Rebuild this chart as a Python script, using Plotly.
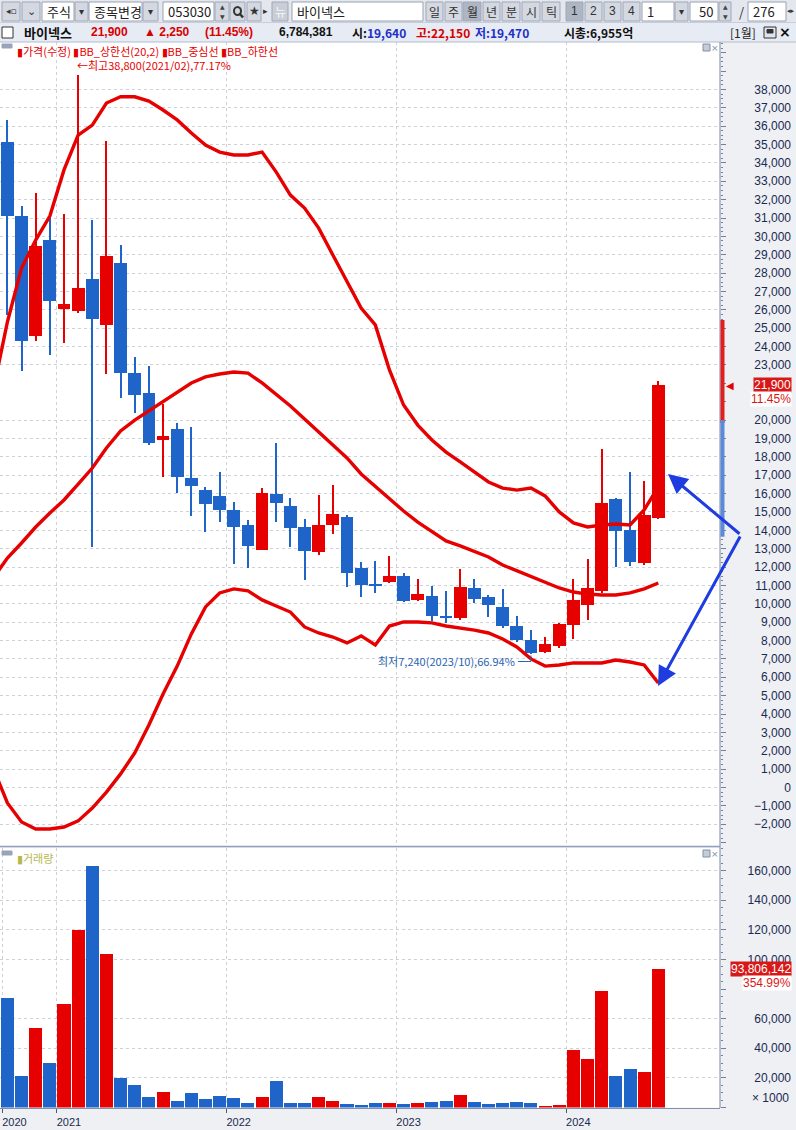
import plotly.graph_objects as go

W, H = 796, 1130

# ---------------- data (monthly, adjusted) ----------------
months = ["2020-09", "2020-10", "2020-11", "2020-12",
          "2021-01", "2021-02", "2021-03", "2021-04", "2021-05", "2021-06",
          "2021-07", "2021-08", "2021-09", "2021-10", "2021-11", "2021-12",
          "2022-01", "2022-02", "2022-03", "2022-04", "2022-05", "2022-06",
          "2022-07", "2022-08", "2022-09", "2022-10", "2022-11", "2022-12",
          "2023-01", "2023-02", "2023-03", "2023-04", "2023-05", "2023-06",
          "2023-07", "2023-08", "2023-09", "2023-10", "2023-11", "2023-12",
          "2024-01", "2024-02", "2024-03", "2024-04", "2024-05", "2024-06",
          "2024-07"]

open_ = [35150, 31100, 24600, 29800, 26050, 25950, 27700, 25200, 28550, 22550,
         21450, 18900, 19500, 16850, 16200, 15850, 15100, 14300, 12950, 16000,
         15300, 14200, 12800, 14300, 14750, 11950, 11100, 11200, 11500, 10200,
         10450, 9350, 9200, 10850, 10350, 9800, 8800, 8050, 7350, 7700,
         8850, 9950, 10700, 15700, 14000, 12200, 14650]
high = [36350, 31650, 32350, 31000, 31200, 38800, 30900, 35200, 29550, 23450,
        22950, 20900, 19850, 19650, 16350, 17200, 15550, 14550, 16300, 18750,
        15750, 14600, 15900, 16450, 14850, 12250, 12350, 12600, 11700, 11350,
        10950, 10700, 11900, 11350, 10500, 10800, 9350, 8600, 8200, 8950,
        11350, 12450, 18450, 15750, 17200, 16700, 22150]
low = [25700, 22650, 24300, 23550, 24200, 25850, 13100, 22500, 21200, 20400,
       18650, 16900, 16050, 14800, 13900, 14450, 12150, 11950, 12950, 14450,
       13100, 11300, 12650, 13800, 10900, 10350, 10600, 11150, 10100, 10150,
       9050, 8950, 9100, 10050, 9300, 8700, 7900, 7240, 7300, 7600,
       8100, 9100, 10600, 12000, 12050, 12100, 14600]
close = [31100, 24300, 29500, 26500, 26300, 27200, 25500, 28950, 22550, 21350,
         18750, 19150, 16900, 16400, 15450, 15100, 14200, 13150, 16050, 15500,
         14150, 12850, 14300, 14900, 11650, 11050, 10950, 11500, 10150, 10550,
         9350, 9200, 10900, 10250, 9950, 8800, 8050, 7300, 7800, 8900,
         10200, 10850, 15500, 13950, 12250, 14850, 21900]
# volume in thousand shares
volume_k = [74000, 21000, 54000, 30000, 70000, 120000, 163000, 104000, 20000, 15000,
            6900, 10300, 4200, 9600, 5500, 7600, 6400, 2800, 6900, 18000,
            2800, 2800, 6900, 4200, 2100, 1400, 2800, 2800, 2100, 2800,
            3500, 4200, 8300, 3500, 2100, 2800, 3500, 2800, 1000, 1400,
            39000, 33000, 79000, 21000, 26000, 24000, 93806]

# Bollinger bands (20,2); first value = 2020-08
band_months = ["2020-08"] + months
bb_upper = [21640, 25340, 28280, 29800, 31110, 33620, 35520, 36060, 37260, 37600,
            37600, 37370, 36880, 36340, 35630, 34970, 34590, 34430, 34430, 34590,
            33500, 32250, 31540, 30450, 28990, 27520, 26100, 25180, 22730, 20820,
            19730, 18920, 18260, 17720, 17170, 16630, 16300, 16190, 16300, 15870,
            15000, 14400, 14180, 14290, 14340, 14290, 15110, 16360]
bb_mid = [11400, 12490, 13310, 14180, 14940, 15650, 16520, 17390, 18480, 19410,
          20000, 20500, 21040, 21530, 22020, 22350, 22510, 22620, 22560, 22020,
          21420, 20770, 20060, 19350, 18700, 17940, 17070, 16410, 15700, 15050,
          14450, 13910, 13420, 13150, 12870, 12550, 12110, 11790, 11510, 11190,
          10860, 10640, 10530, 10480, 10480, 10590, 10810, 11130]
bb_lower = [1060, -840, -1880, -2260, -2260, -2150, -1820, -1120, -250, 740,
            1880, 3400, 5090, 6610, 8360, 9830, 10590, 10810, 10700, 10210,
            9880, 9550, 8740, 8410, 8190, 7870, 8250, 7760, 8790, 9010,
            9010, 8960, 8790, 8680, 8570, 8410, 8080, 7650, 7000, 6610,
            6670, 6780, 6780, 6780, 6940, 6830, 6670, 5690]

# labels hidden under the last-price boxes in the original are left out
price_ticks = [v for v in range(-2000, 38001, 1000) if v not in (21000, 22000)]
volume_ticks = [v for v in range(20000, 160001, 20000) if v != 80000]

# ---------------- helpers ----------------
def px(x):
    return x / W

def py(y):
    return 1 - y / H

RED = "#e60000"
BLUE = "#1f64c8"
KFONT = "Noto Sans CJK KR"
NFONT = "Liberation Sans"

xi = list(range(len(months)))
band_x = list(range(-1, len(months)))
colors = [RED if c >= o else BLUE for o, c in zip(open_, close)]

fig = go.Figure()

# wicks
fig.add_trace(go.Bar(x=xi, y=[h - l for h, l in zip(high, low)], base=low, width=0.075,
                     marker=dict(color=colors, line_width=0), xaxis="x", yaxis="y",
                     hoverinfo="skip"))
# bodies
fig.add_trace(go.Bar(x=xi, y=[abs(c - o) for o, c in zip(open_, close)],
                     base=[min(o, c) for o, c in zip(open_, close)], width=0.9,
                     marker=dict(color=colors, line_width=0), xaxis="x", yaxis="y",
                     hoverinfo="skip"))
# bands
for arr in (bb_upper, bb_mid, bb_lower):
    fig.add_trace(go.Scatter(x=band_x, y=arr, mode="lines",
                             line=dict(color=RED, width=3.4), xaxis="x", yaxis="y",
                             hoverinfo="skip"))
# ruler-axis helpers (empty)
fig.add_trace(go.Scatter(x=[], y=[], xaxis="x", yaxis="y3"))
fig.add_trace(go.Scatter(x=[], y=[], xaxis="x2", yaxis="y4"))
# volume
fig.add_trace(go.Bar(x=xi, y=volume_k, width=0.92, marker=dict(color=colors, line_width=0),
                     xaxis="x2", yaxis="y2", hoverinfo="skip"))

# year ticks (first label sits at the left edge of the first bar)
year_pos = [-0.35] + [i - 0.5 for i, m in enumerate(months) if m.endswith("-01")]
year_txt = [months[0][:4]] + [m[:4] for m in months if m.endswith("-01")]

XR = [-0.523, 50.36]
price_dom = [py(846), py(42)]
vol_dom = [py(1107.5), py(848)]
PR = [-3185, 40582]
VR = [0, 175300]

grid = dict(showgrid=True, gridcolor="#cdd1d8", griddash="dot", gridwidth=1)

fig.update_layout(
    width=W, height=H, margin=dict(l=0, r=0, t=0, b=0),
    template="none",
    paper_bgcolor="#eef0f4", plot_bgcolor="white",
    showlegend=False, barmode="overlay", bargap=0,
    font=dict(family=NFONT, size=12, color="#1a2a50"),
    xaxis=dict(domain=[0, px(720)], range=XR, anchor="y", showticklabels=False,
               tickvals=year_pos[1:], ticks="", zeroline=False, showline=False, **grid),
    xaxis2=dict(domain=[0, px(720)], range=XR, anchor="y2", matches="x",
                tickvals=year_pos, ticktext=year_txt, ticks="outside", ticklen=4,
                tickcolor="#505868", ticklabelshift=12, ticklabelstandoff=0,
                zeroline=False, showline=True, linecolor="#8090a8", linewidth=1,
                tickfont=dict(family=NFONT, size=11, color="#1a2a50"), **grid),
    yaxis=dict(domain=price_dom, range=PR, anchor="free", position=px(791), side="left",
               tickvals=price_ticks, tickformat=",d", ticks="", zeroline=False,
               showline=False, tickfont=dict(family=NFONT, size=12, color="#1a2a50"),
               **grid),
    yaxis3=dict(domain=price_dom, range=PR, overlaying="y", anchor="x", side="right",
                showticklabels=False, showgrid=False, zeroline=False, ticks="outside",
                ticklen=5, tickcolor="#7080a0", dtick=1000, tick0=0,
                minor=dict(ticks="outside", ticklen=2, dtick=250, tickcolor="#7080a0")),
    yaxis2=dict(domain=vol_dom, range=VR, anchor="free", position=px(791), side="left",
                tickvals=volume_ticks, tickformat=",d", ticks="", zeroline=False,
                showline=False, tickfont=dict(family=NFONT, size=12, color="#1a2a50"),
                **grid),
    yaxis4=dict(domain=vol_dom, range=VR, overlaying="y2", anchor="x2", side="right",
                showticklabels=False, showgrid=False, zeroline=False, ticks="outside",
                ticklen=5, tickcolor="#7080a0", dtick=20000, tick0=0,
                minor=dict(ticks="outside", ticklen=2, dtick=5000, tickcolor="#7080a0")),
)

shapes = []
ann = []

def rect(x0, y0, x1, y1, fill, line="#9aa2b2", lw=1, layer="above"):
    shapes.append(dict(type="rect", xref="paper", yref="paper", x0=px(x0), x1=px(x1),
                       y0=py(y1), y1=py(y0), fillcolor=fill,
                       line=dict(color=line, width=lw), layer=layer))

def hline(x0, x1, y, color, w=1):
    shapes.append(dict(type="line", xref="paper", yref="paper", x0=px(x0), x1=px(x1),
                       y0=py(y), y1=py(y), line=dict(color=color, width=w)))

def vline(x, y0, y1, color, w=1):
    shapes.append(dict(type="line", xref="paper", yref="paper", x0=px(x), x1=px(x),
                       y0=py(y0), y1=py(y1), line=dict(color=color, width=w)))

def text(x, y, s, color="#111", size=12, anchor="left", family=KFONT, bold=False, bg=None):
    if bold:
        s = "<b>" + s + "</b>"
    d = dict(xref="paper", yref="paper", x=px(x), y=py(y), text=s, showarrow=False,
             xanchor=anchor, yanchor="middle", font=dict(family=family, size=size, color=color))
    if bg:
        d["bgcolor"] = bg
    ann.append(d)

# ---------- toolbar ----------
rect(0, 0, 796, 23, "#e4e7ee", line="#e4e7ee", lw=0)
hline(0, 796, 23, "#aab3c4")
BTN = "#d3d8e1"
def button(x0, x1, label, fill=BTN, color="#333", size=11, fam=KFONT):
    rect(x0, 2, x1, 21, fill, line="#a0a8b8")
    if label:
        text((x0 + x1) / 2, 11.5, label, color=color, size=size, anchor="center", family=fam)
def field(x0, x1, label, anchor="left", size=13):
    rect(x0, 2, x1, 21, "white", line="#9aa2b2")
    if anchor == "left":
        text(x0 + 3, 11.5, label, color="#222", size=size)
    else:
        text(x1 - 3, 11.5, label, color="#222", size=size, anchor="right")

button(2, 20, "◂▫", size=9, fam="DejaVu Sans")
button(22, 40, "⌄", size=11, fam="DejaVu Sans")
field(42, 74, "주식")
button(75, 88, "▾", size=10, fam="DejaVu Sans")
field(89, 142, "종목변경")
button(143, 158, "▾", size=10, fam="DejaVu Sans")
field(163, 214, "053030", size=13)
button(215, 229, "", fill=BTN)
text(222, 7, "▲", size=6, anchor="center", family="DejaVu Sans", color="#444")
text(222, 16, "▼", size=6, anchor="center", family="DejaVu Sans", color="#444")
button(230, 245, "")
shapes.append(dict(type="circle", xref="paper", yref="paper", x0=px(234), x1=px(241),
                   y0=py(15), y1=py(7), line=dict(color="#333", width=2)))
shapes.append(dict(type="line", xref="paper", yref="paper", x0=px(240), x1=px(243),
                   y0=py(14), y1=py(17.5), line=dict(color="#333", width=2.5)))
button(247, 261, "★", size=12, fam="DejaVu Sans")
text(265, 11.5, "▸", size=9, anchor="center", family="DejaVu Sans", color="#333")
button(272, 288, "뉴", fill="#c8cdd6", color="#f4f6fa", size=12)
field(292, 423, "바이넥스")
for (x0, x1, lab, sel) in [(426, 443, "일", False), (445, 462, "주", False),
                           (463, 481, "월", True), (483, 500, "년", False),
                           (502, 520, "분", False), (522, 540, "시", False),
                           (542, 560, "틱", False)]:
    button(x0, x1, lab, fill="#aeb6c4" if sel else BTN, size=12)
for (x0, x1, lab, sel) in [(566, 583, "1", True), (585, 602, "2", False),
                           (604, 621, "3", False), (623, 640, "4", False)]:
    button(x0, x1, lab, fill="#aeb6c4" if sel else BTN, size=12, fam=NFONT)
field(642, 674, "1")
button(675, 688, "▾", size=10, fam="DejaVu Sans")
field(690, 718, "50", anchor="right")
button(719, 731, "")
text(725, 7, "▲", size=6, anchor="center", family="DejaVu Sans", color="#444")
text(725, 16, "▼", size=6, anchor="center", family="DejaVu Sans", color="#444")
text(741, 11.5, "/", size=13, anchor="center", color="#333")
field(748, 786, "276")
text(791, 11.5, "◂▸", size=7, anchor="center", family="DejaVu Sans", color="#333")

# ---------- info bar ----------
rect(0, 23, 796, 42, "#e7ebf3", line="#e7ebf3", lw=0)
hline(0, 796, 42, "#b4bccb")
rect(2, 27, 13, 38, "white", line="#333")
text(22, 32.5, "바이넥스", color="#111", size=13, bold=True)
text(89, 32.5, "21,900", color="#d80000", size=12, bold=True, family=NFONT)
text(142, 32.5, "▲ 2,250", color="#d80000", size=12, bold=True, family=NFONT)
text(203, 32.5, "(11.45%)", color="#d80000", size=12, bold=True, family=NFONT)
text(277, 32.5, "6,784,381", color="#111", size=12, bold=True, family=NFONT)
text(350, 32.5, "시:<span style='color:#2030c8'>19,640</span>", color="#111", size=12, bold=True)
text(414, 32.5, "고:22,150", color="#d80000", size=12, bold=True)
text(473, 32.5, "저:19,470", color="#2030c8", size=12, bold=True)
text(562, 32.5, "시총:6,955억", color="#111", size=12, bold=True)
text(728, 32.5, "[1월]", color="#222", size=12)
rect(764, 27, 776, 38, "#dfe4ec", line="#333")
rect(767, 29.5, 773, 33, "#333", line="#333")
text(785, 32.5, "×", color="#111", size=14, anchor="center", family="DejaVu Sans", bold=True)

# ---------- panes chrome ----------
vline(720, 42, 1108, "#7888a0")
hline(0, 720, 846.5, "#8fa0b8", 1.5)
for yy in (48, 854):
    rect(703, yy - 4, 710, yy + 3, "#c4ccd8", line="#8090a8")
    text(714.5, yy, "×", color="#8090a8", size=9, anchor="center", family="DejaVu Sans")
# legends
rect(2, 44, 12, 48, "#9aa4b8", line="#9aa4b8")
text(15, 51, "▮가격(수정) ▮BB_상한선(20,2) ▮BB_중심선 ▮BB_하한선", color=RED, size=11)
rect(2, 851, 12, 855, "#9aa4b8", line="#9aa4b8")
text(15, 858, "▮거래량", color="#b8b84a", size=11)

# ruler range strip and current price marker
shapes.append(dict(type="rect", xref="paper", yref="y", x0=px(720.5), x1=px(724.5),
                   y0=close[-2] + 5000, y1=high[-1] + 3300, fillcolor="#e02020",
                   line=dict(width=0)))
shapes.append(dict(type="rect", xref="paper", yref="y", x0=px(720.5), x1=px(724.5),
                   y0=20000, y1=close[-2] + 5000, fillcolor="#e86060", line=dict(width=0)))
shapes.append(dict(type="rect", xref="paper", yref="y", x0=px(720.5), x1=px(724.5),
                   y0=13650, y1=20000, fillcolor="#5a8ad8", line=dict(width=0)))
ann.append(dict(xref="paper", yref="y", x=px(724), y=close[-1], text="◀", showarrow=False,
                xanchor="left", yanchor="middle",
                font=dict(family="DejaVu Sans", size=10, color=RED)))

# last-price labels
ann.append(dict(xref="paper", yref="y", x=px(792), y=close[-1], text=f"{close[-1]:,}",
                showarrow=False, xanchor="right", yanchor="middle", bgcolor="#d81818",
                borderpad=0, font=dict(family=NFONT, size=12, color="white")))
pct = (close[-1] - 19650) / 19650 * 100
ann.append(dict(xref="paper", yref="y", x=px(792), y=close[-1], yshift=-14,
                text=f"{pct:.2f}%", showarrow=False, xanchor="right", yanchor="middle",
                bgcolor="white", borderpad=0, font=dict(family=NFONT, size=12, color="#d81818")))
ann.append(dict(xref="paper", yref="y2", x=px(792), y=volume_k[-1], text="93,806,142",
                showarrow=False, xanchor="right", yanchor="middle", bgcolor="#d81818",
                borderpad=0, font=dict(family=NFONT, size=12, color="white")))
ann.append(dict(xref="paper", yref="y2", x=px(792), y=volume_k[-1], yshift=-14,
                text="354.99%", showarrow=False, xanchor="right", yanchor="middle",
                bgcolor="white", borderpad=0, font=dict(family=NFONT, size=12, color="#d81818")))
text(791, 1098, "× 1000", color="#1a2a50", size=12, anchor="right", family=NFONT)

# high / low annotations
hi_i = max(range(len(high)), key=lambda k: high[k])
lo_i = min(range(len(low)), key=lambda k: low[k])
hi_pct = (high[hi_i] - close[-1]) / close[-1] * 100
lo_pct = (close[-1] - low[lo_i]) / close[-1] * 100
ann.append(dict(xref="x", yref="y", x=hi_i, y=high[hi_i], xshift=-3, yshift=0,
                text=f"←최고{high[hi_i]:,}({months[hi_i][:4]}/{months[hi_i][5:]}),{hi_pct:.2f}%",
                showarrow=False, xanchor="left", yanchor="bottom",
                font=dict(family=KFONT, size=11, color=RED)))
ann.append(dict(xref="x", yref="y", x=lo_i, y=low[lo_i], xshift=-14, yshift=-7,
                text=f"최저{low[lo_i]:,}({months[lo_i][:4]}/{months[lo_i][5:]}),{lo_pct:.2f}%",
                showarrow=False, xanchor="right", yanchor="middle",
                font=dict(family=KFONT, size=11, color="#2a64b0")))
shapes.append(dict(type="path", xref="x", yref="y", xsizemode="pixel", ysizemode="pixel",
                   xanchor=lo_i, yanchor=low[lo_i], path="M -13,-7 L 0,-7 L 0,-1",
                   line=dict(color="#2a64b0", width=1)))

# hand-drawn blue arrows
for hx, hy in ((668, 474), (658, 686)):
    ann.append(dict(xref="paper", yref="paper", x=px(hx), y=py(hy), ax=741 - hx, ay=535 - hy,
                    text="", showarrow=True, arrowhead=2, arrowsize=1.3, arrowwidth=3,
                    arrowcolor="#1e3ce0"))

fig.update_layout(shapes=shapes, annotations=ann)
fig.write_html("out.html", config={"displayModeBar": False},
               post_script="document.body.style.margin='0';document.body.style.overflow='hidden';")
